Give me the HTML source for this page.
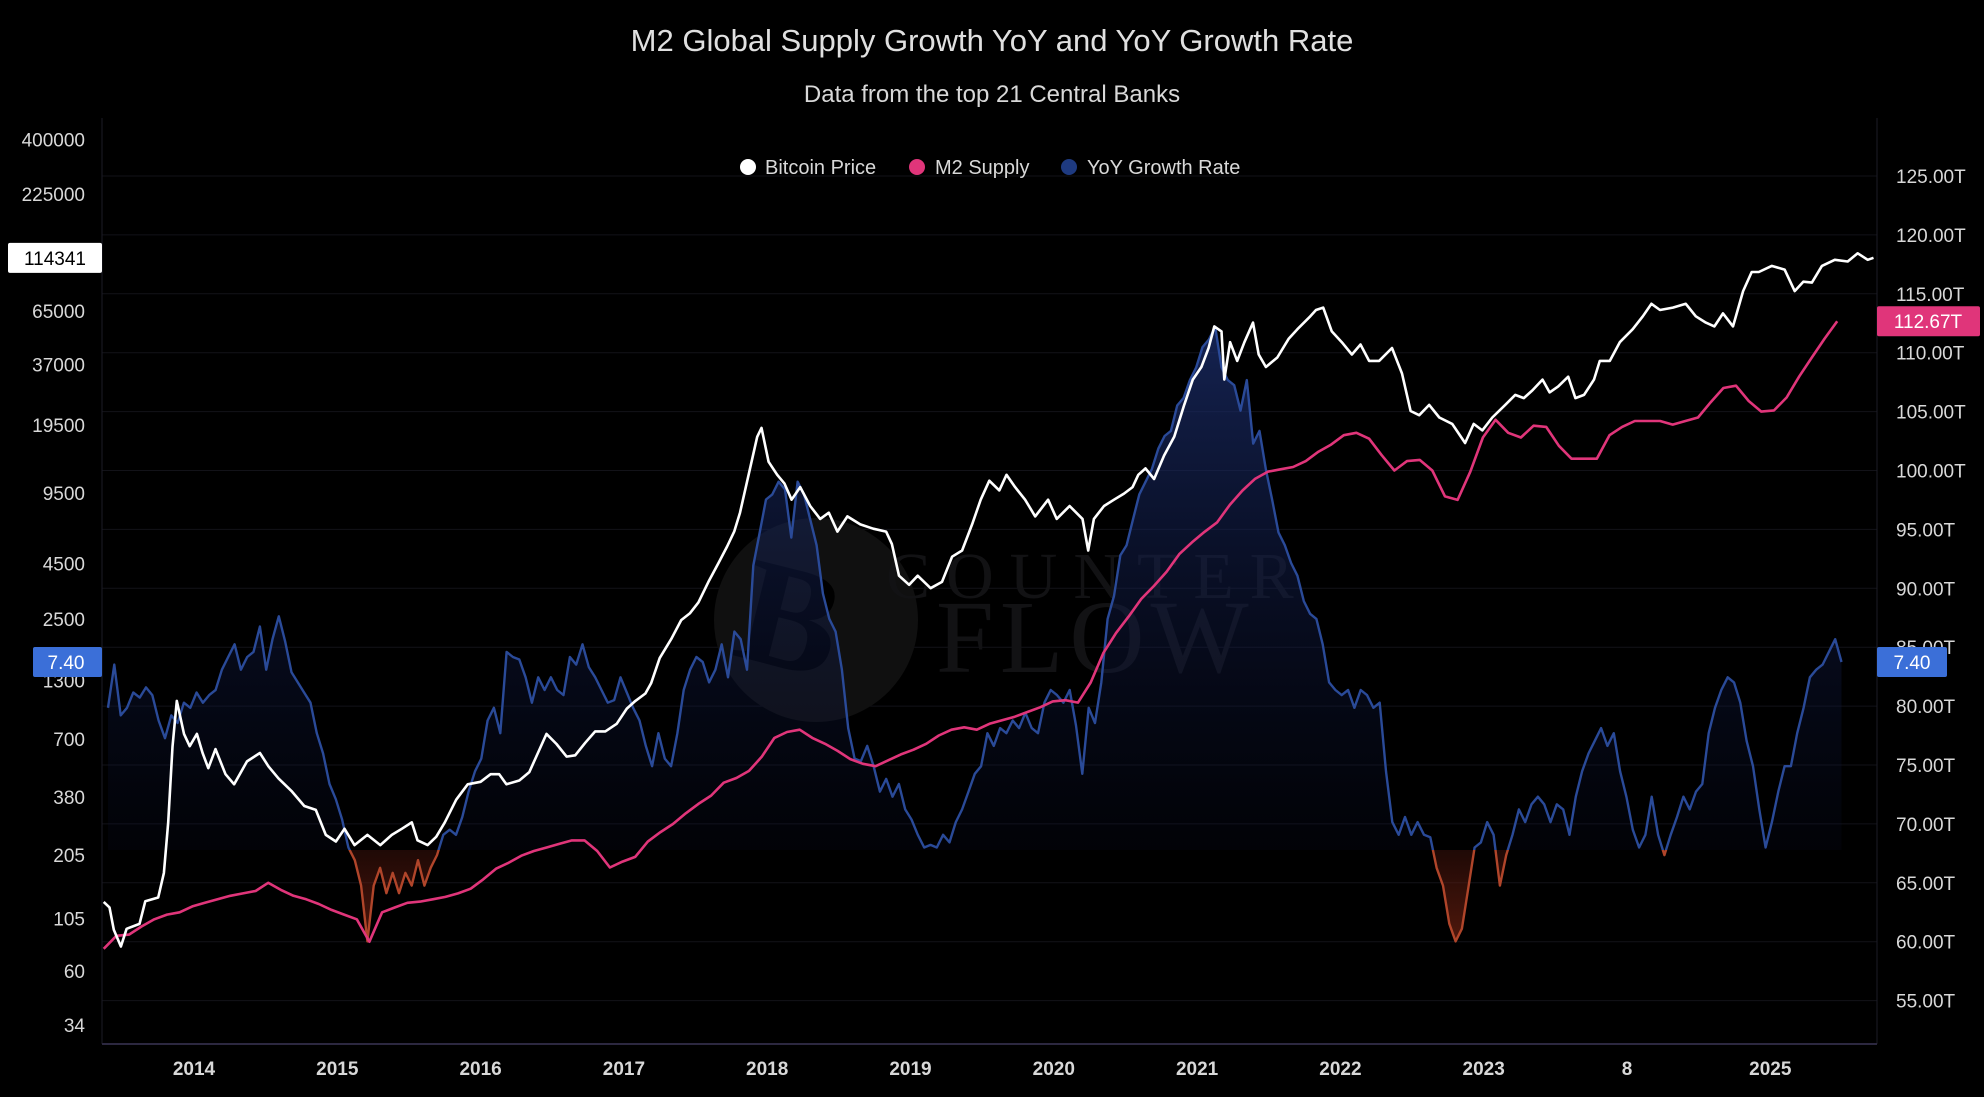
<!DOCTYPE html>
<html><head><meta charset="utf-8"><title>M2 Global Supply Growth</title>
<style>
html,body{margin:0;padding:0;background:#000;}
svg{display:block;font-family:"Liberation Sans",sans-serif;}
</style></head>
<body>
<svg id="chart" width="1984" height="1097" viewBox="0 0 1984 1097" xmlns="http://www.w3.org/2000/svg">
<defs>
<linearGradient id="gBlue" gradientUnits="userSpaceOnUse" x1="0" y1="320" x2="0" y2="850">
<stop offset="0" stop-color="#1c2f6e" stop-opacity="0.75"/>
<stop offset="1" stop-color="#0a1030" stop-opacity="0.15"/>
</linearGradient>
<linearGradient id="gRed" gradientUnits="userSpaceOnUse" x1="0" y1="850" x2="0" y2="950">
<stop offset="0" stop-color="#5a1a10" stop-opacity="0.35"/>
<stop offset="1" stop-color="#6a2010" stop-opacity="0.8"/>
</linearGradient>
<clipPath id="plotClip"><rect x="102" y="118" width="1775" height="926"/></clipPath>
<clipPath id="aboveZero"><rect x="102" y="118" width="1775" height="732"/></clipPath>
<clipPath id="belowZero"><rect x="102" y="850" width="1775" height="194"/></clipPath>
</defs>
<rect x="0" y="0" width="1984" height="1097" fill="#000"/>
<g id="grid"></g>
<g>
<circle cx="816" cy="620" r="102" fill="#101010"/>
<text x="790" y="668" font-size="150" font-family="Liberation Serif,serif" font-weight="bold" fill="#000" text-anchor="middle" transform="rotate(14 790 620)">B</text>
<text x="886" y="598" font-size="66" font-family="Liberation Serif,serif" fill="#121214" letter-spacing="16">COUNTER</text>
<text x="936" y="672" font-size="104" font-family="Liberation Serif,serif" fill="#121214" letter-spacing="6">FLOW</text>
</g>
<g id="series" clip-path="url(#plotClip)"></g>
<line x1="102" y1="118" x2="102" y2="1044" stroke="#1c1c26" stroke-width="1"/>
<line x1="1877" y1="118" x2="1877" y2="1044" stroke="#1c1c26" stroke-width="1"/>
<line x1="102" y1="1044" x2="1877" y2="1044" stroke="#2c2840" stroke-width="2"/>
<g id="axes"></g>
<text x="992" y="51" font-size="31" fill="#e0e0e0" text-anchor="middle">M2 Global Supply Growth YoY and YoY Growth Rate</text>
<text x="992" y="102" font-size="24" fill="#d8d8d8" text-anchor="middle">Data from the top 21 Central Banks</text>
<g>
<g><circle cx="748" cy="167" r="8" fill="#ffffff"/><text x="765" y="174" font-size="20" fill="#d8d8d8">Bitcoin Price</text></g>
<g><circle cx="917" cy="167" r="8" fill="#e0357a"/><text x="935" y="174" font-size="20" fill="#d8d8d8">M2 Supply</text></g>
<g><circle cx="1069" cy="167" r="8" fill="#1e3a80"/><text x="1087" y="174" font-size="20" fill="#d8d8d8">YoY Growth Rate</text></g>
</g>
</svg>
<script>
// ---- data ----
const btcDates = [2013.37,2013.41,2013.44,2013.49,2013.53,2013.62,2013.66,2013.75,2013.79,2013.82,2013.85,2013.88,2013.93,2013.97,2014.02,2014.06,2014.10,2014.15,2014.22,2014.28,2014.37,2014.46,2014.52,2014.59,2014.68,2014.77,2014.85,2014.92,2014.99,2015.05,2015.12,2015.21,2015.30,2015.38,2015.45,2015.52,2015.56,2015.63,2015.69,2015.75,2015.83,2015.91,2016.00,2016.07,2016.13,2016.18,2016.27,2016.34,2016.40,2016.46,2016.53,2016.60,2016.66,2016.73,2016.80,2016.87,2016.95,2017.02,2017.08,2017.15,2017.19,2017.25,2017.33,2017.40,2017.46,2017.52,2017.59,2017.66,2017.72,2017.77,2017.81,2017.87,2017.93,2017.96,2018.01,2018.07,2018.12,2018.17,2018.23,2018.30,2018.37,2018.43,2018.49,2018.56,2018.65,2018.74,2018.83,2018.87,2018.92,2018.99,2019.05,2019.14,2019.22,2019.29,2019.36,2019.43,2019.49,2019.55,2019.62,2019.67,2019.73,2019.80,2019.87,2019.96,2020.02,2020.11,2020.20,2020.24,2020.28,2020.35,2020.42,2020.49,2020.55,2020.59,2020.64,2020.70,2020.77,2020.84,2020.91,2020.97,2021.03,2021.08,2021.12,2021.17,2021.19,2021.23,2021.28,2021.33,2021.39,2021.43,2021.48,2021.56,2021.64,2021.70,2021.79,2021.83,2021.88,2021.94,2022.01,2022.08,2022.14,2022.20,2022.27,2022.36,2022.43,2022.49,2022.55,2022.62,2022.69,2022.78,2022.87,2022.93,2022.99,2023.06,2023.15,2023.22,2023.28,2023.34,2023.41,2023.46,2023.52,2023.59,2023.64,2023.70,2023.77,2023.81,2023.88,2023.95,2024.04,2024.11,2024.17,2024.23,2024.32,2024.41,2024.48,2024.55,2024.61,2024.67,2024.74,2024.81,2024.87,2024.92,2025.01,2025.10,2025.17,2025.23,2025.29,2025.36,2025.45,2025.54,2025.61,2025.68,2025.72];
const btcPrice = [125,118,93,78,94,99,126,131,170,290,646,1050,740,650,740,605,515,630,483,434,553,605,525,462,405,345,331,254,237,271,228,254,228,254,271,290,240,228,249,290,369,434,446,483,483,434,452,494,605,740,665,582,590,674,760,760,824,968,1050,1135,1265,1652,2020,2470,2650,2980,3700,4520,5380,6300,7700,11500,17200,18900,13200,11500,10500,8830,10100,8260,7210,7700,6300,7400,6800,6500,6300,5520,3950,3590,3950,3460,3700,4830,5160,6800,8830,10800,9750,11500,10100,8830,7400,8830,7210,8260,7210,5160,7210,8260,8830,9420,10100,11500,12300,11000,14100,17200,24100,31500,36000,44000,55300,52500,31500,46800,38400,46800,57600,41100,36000,39800,48600,53700,61600,65800,67500,52500,46800,41100,45700,38400,38400,44000,33600,22600,21600,24100,21100,19700,16100,19700,18400,21100,24100,26800,25900,28100,31500,27500,29300,32500,25900,26800,31500,38400,38400,46800,53700,61600,70300,65800,67500,70300,61600,57600,55300,63500,55300,80400,98400,98400,105000,101000,80400,88800,88000,105000,112000,110000,120000,112000,114341];

const m2Start = 2013.37, m2Step = 0.0883;
const m2Supply = [59.4,60.5,60.6,61.3,61.9,62.3,62.5,63.0,63.3,63.6,63.9,64.1,64.3,65.0,64.4,63.9,63.6,63.2,62.7,62.3,61.9,60.0,62.5,62.9,63.3,63.4,63.6,63.8,64.1,64.5,65.3,66.2,66.7,67.3,67.7,68.0,68.3,68.6,68.6,67.7,66.3,66.8,67.2,68.5,69.3,70.0,70.9,71.7,72.4,73.5,73.9,74.5,75.7,77.3,77.8,78.0,77.3,76.8,76.2,75.5,75.1,74.9,75.4,75.9,76.3,76.8,77.5,78.0,78.2,78.0,78.5,78.8,79.1,79.5,79.9,80.4,80.5,80.3,82.0,84.5,86.2,87.6,89.1,90.2,91.4,92.9,93.9,94.8,95.6,97.1,98.3,99.3,99.9,100.1,100.3,100.8,101.6,102.2,103.0,103.2,102.7,101.3,100.0,100.8,100.9,100.0,97.8,97.5,99.9,102.8,104.3,103.2,102.8,103.8,103.7,102.1,101.0,101.0,101.0,103.0,103.7,104.2,104.2,104.2,103.9,104.2,104.5,105.8,107.0,107.2,105.9,105.0,105.1,106.2,108.0,109.6,111.2,112.67];

const yoyStart = 2013.40, yoyStep = 0.04415;
const yoyRate = [5.6,7.3,5.3,5.6,6.2,6.0,6.4,6.1,5.1,4.4,5.3,5.0,5.8,5.6,6.2,5.8,6.1,6.3,7.1,7.6,8.1,7.1,7.6,7.8,8.8,7.1,8.3,9.2,8.2,7.0,6.6,6.2,5.8,4.6,3.8,2.6,2.0,1.2,0.1,-0.4,-1.4,-3.6,-1.4,-0.7,-1.7,-0.9,-1.7,-0.9,-1.4,-0.4,-1.4,-0.7,-0.2,0.6,0.8,0.6,1.3,2.3,3.1,3.6,5.1,5.6,4.6,7.8,7.6,7.5,6.8,5.8,6.8,6.3,6.8,6.3,6.1,7.6,7.3,8.1,7.2,6.8,6.3,5.8,5.9,6.8,6.2,5.6,5.1,4.1,3.3,4.6,3.6,3.3,4.6,6.3,7.1,7.6,7.4,6.6,7.1,8.1,6.8,8.6,8.3,7.1,11.2,12.5,13.8,14.0,14.5,14.2,12.3,14.5,14.0,13.0,12.0,10.1,9.1,8.6,7.1,4.8,3.6,3.5,4.1,3.3,2.3,2.8,2.1,2.6,1.6,1.2,0.6,0.1,0.2,0.1,0.6,0.3,1.1,1.6,2.3,3.0,3.3,4.6,4.1,4.8,4.6,5.1,4.8,5.4,4.8,4.6,5.8,6.3,6.1,5.8,6.3,4.9,3.0,5.6,5.0,6.6,9.1,10.0,11.6,12.0,13.0,14.0,14.5,15.0,15.8,16.3,16.5,17.5,17.8,18.5,19.0,19.8,20.1,20.6,19.0,18.5,18.3,17.3,18.5,16.0,16.5,15.0,13.8,12.5,12.0,11.3,10.8,9.8,9.3,9.1,8.1,6.6,6.3,6.1,6.3,5.6,6.3,6.1,5.6,5.8,3.1,1.1,0.6,1.3,0.6,1.1,0.6,0.5,-0.7,-1.4,-2.9,-3.6,-3.1,-1.5,0.1,0.3,1.1,0.6,-1.4,-0.2,0.6,1.6,1.1,1.8,2.1,1.8,1.1,1.8,1.6,0.6,2.1,3.1,3.8,4.3,4.8,4.1,4.6,3.1,2.1,0.8,0.1,0.6,2.1,0.6,-0.2,0.6,1.3,2.1,1.6,2.3,2.6,4.6,5.6,6.3,6.8,6.6,5.8,4.3,3.3,1.6,0.1,1.1,2.3,3.3,3.3,4.6,5.6,6.8,7.1,7.3,7.8,8.3,7.4];

const yearTicks = [2014,2015,2016,2017,2018,2019,2020,2021,2022,2023,2024,2025];
const yearLabels = ["2014","2015","2016","2017","2018","2019","2020","2021","2022","2023","8","2025"];
const leftTicks = [400000,225000,65000,37000,19500,9500,4500,2500,1300,700,380,205,105,60,34];
const rightTicks = [125,120,115,110,105,100,95,90,85,80,75,70,65,60,55];

// ---- scales ----
const NS = "http://www.w3.org/2000/svg";
function xS(t){ return 194 + (t - 2014) * 143.3; }
function yB(p){ return 1025 - (Math.log10(p) - 1.531) * 217.5; }
function yM(v){ return 176 + (125 - v) * 11.78; }
function yG(g){ return 850 - g * 25.4; }
function mk(tag, attrs, parent){
  const el = document.createElementNS(NS, tag);
  for (const k in attrs) el.setAttribute(k, attrs[k]);
  parent.appendChild(el);
  return el;
}
const grid = document.getElementById('grid');
const series = document.getElementById('series');
const axes = document.getElementById('axes');

rightTicks.forEach(v => {
  const ln = mk('line', {x1:102, x2:1877, y1:yM(v), y2:yM(v), stroke:'#121218', 'stroke-width':1}, grid);
  
  
});

const yoyPts = yoyRate.map((g,i) => [xS(yoyStart + i*yoyStep), yG(g)]);
const yoyLine = yoyPts.map((p,i) => (i?'L':'M') + p[0].toFixed(1) + ',' + p[1].toFixed(1)).join('');
const z = yG(0);
const areaD = yoyLine + 'L' + yoyPts[yoyPts.length-1][0].toFixed(1) + ',' + z + 'L' + yoyPts[0][0].toFixed(1) + ',' + z + 'Z';
const areaBlue = mk('path', {d:areaD, fill:'url(#gBlue)', 'clip-path':'url(#aboveZero)'}, series);


const areaRed = mk('path', {d:areaD, fill:'url(#gRed)', 'clip-path':'url(#belowZero)'}, series);


const lineBlue = mk('path', {d:yoyLine, fill:'none', stroke:'#2a4a98', 'stroke-width':2.4, 'stroke-linejoin':'round', 'clip-path':'url(#aboveZero)'}, series);


const lineRed = mk('path', {d:yoyLine, fill:'none', stroke:'#b0452a', 'stroke-width':2.4, 'stroke-linejoin':'round', 'clip-path':'url(#belowZero)'}, series);



const m2D = m2Supply.map((v,i) => (i?'L':'M') + xS(m2Start + i*m2Step).toFixed(1) + ',' + yM(v).toFixed(1)).join('');
const m2Line = mk('path', {d:m2D, fill:'none', stroke:'#e0357a', 'stroke-width':2.6, 'stroke-linejoin':'round'}, series);



const btcD = btcPrice.map((p,i) => (i?'L':'M') + xS(btcDates[i]).toFixed(1) + ',' + yB(p).toFixed(1)).join('');
const btcLine = mk('path', {d:btcD, fill:'none', stroke:'#ffffff', 'stroke-width':2.6, 'stroke-linejoin':'round'}, series);



yearTicks.forEach((t,i) => {
  const tx = mk('text', {x:xS(t), y:1075, 'font-size':19, 'font-weight':'bold', fill:'#d8d8d8', 'text-anchor':'middle'}, axes);
  tx.textContent = yearLabels[i];
  
  
});
leftTicks.forEach(v => {
  const tx = mk('text', {x:85, y:yB(v)+7, 'font-size':19, fill:'#d8d8d8', 'text-anchor':'end'}, axes);
  tx.textContent = String(v);
  
  
});
rightTicks.forEach(v => {
  const tx = mk('text', {x:1896, y:yM(v)+7, 'font-size':19, fill:'#d8d8d8'}, axes);
  tx.textContent = v.toFixed(2) + 'T';
  
  
});

function badge(x, y, w, fill, txtColor, label, anchorX, name){
  const g = mk('g', {}, axes);
  
  
  mk('rect', {x:x, y:y-15, width:w, height:30, rx:2, fill:fill}, g);
  const t = mk('text', {x:anchorX, y:y+7, 'font-size':19, fill:txtColor, 'text-anchor':'middle'}, g);
  t.textContent = label;
}
const lastBtc = btcPrice[btcPrice.length-1];
const lastM2 = m2Supply[m2Supply.length-1];
const lastYoy = yoyRate[yoyRate.length-1];
badge(8, yB(lastBtc), 94, '#ffffff', '#000', String(lastBtc), 55, 'bitcoin-last-value-badge');
badge(33, yG(lastYoy), 69, '#3b6fd8', '#fff', lastYoy.toFixed(2), 66, 'yoy-left-last-value-badge');
badge(1877, yM(lastM2), 103, '#e0357a', '#fff', lastM2.toFixed(2) + 'T', 1928, 'm2-last-value-badge');
badge(1877, yG(lastYoy), 70, '#3b6fd8', '#fff', lastYoy.toFixed(2), 1912, 'yoy-right-last-value-badge');
</script>
</body></html>
